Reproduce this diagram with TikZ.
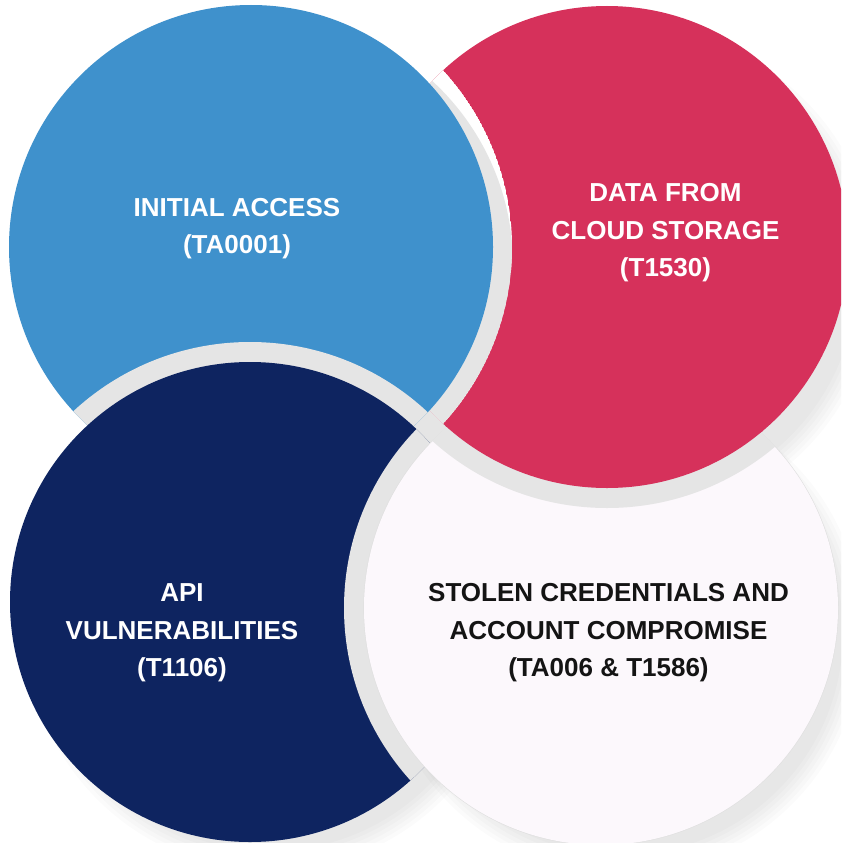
\documentclass[tikz,border=0pt]{standalone}
\usepackage{fontspec}
\setmainfont{Liberation Sans}
\definecolor{bluec}{HTML}{3F91CC}
\definecolor{redc}{HTML}{D6315B}
\definecolor{navyc}{HTML}{0E2460}
\definecolor{whitec}{HTML}{FCF8FC}
\definecolor{ringgrey}{HTML}{E5E5E5}
\definecolor{txtdark}{HTML}{141414}
\begin{document}
\begin{tikzpicture}[x=1pt,y=-1pt,
  lbl/.style={align=center, font=\fontsize{26}{37.5}\selectfont\bfseries, inner sep=0pt},
  softshadow/.style={fill=black, opacity=0.016}]
\useasboundingbox (0,0) rectangle (841,843);
\fill[white] (0,0) rectangle (841,843);
\clip (0,0) rectangle (841,843);
\coordinate (cB) at (251,247);
\coordinate (cR) at (607,247);
\coordinate (cN) at (250,602);
\coordinate (cW) at (601,608);
\coordinate (mid) at (430,427);
% soft drop shadows
\foreach \k in {0,...,5}{
  \fill[softshadow] ([shift={(22,28)}]cR) circle[radius=248pt-4pt*\k];
  \fill[softshadow] ([shift={(20,25)}]cW) circle[radius=242pt-4pt*\k];
  \fill[softshadow] ([shift={(20,25)}]cN) circle[radius=244pt-4pt*\k];
}
% grey patch where the four rings meet
\fill[ringgrey] (mid) circle[radius=20pt];
% red (under blue)
\fill[redc] (cR) circle[radius=241pt];
% blue ring over red
\begin{scope}
  \clip (cR) circle[radius=241pt];
  \clip (cB) circle[radius=261pt];
  \fill[white] (cB) circle[radius=261pt];
  \fill[ringgrey] ([shift={(12,18)}]cB) circle[radius=250pt];
\end{scope}
\fill[bluec] (cB) circle[radius=242pt];
% navy ring over blue
\begin{scope}
  \clip (cB) circle[radius=242pt];
  \fill[ringgrey] (cN) circle[radius=260pt];
\end{scope}
\fill[navyc] (cN) circle[radius=240pt];
% white ring over navy
\begin{scope}
  \clip (cN) circle[radius=240pt];
  \fill[ringgrey] (cW) circle[radius=257pt];
\end{scope}
% white circle with a faint edge
\fill[black!12] (cW) circle[radius=237.6pt];
\fill[whitec] (cW) circle[radius=237pt];
% red ring and red over white
\begin{scope}
  \clip (cW) circle[radius=237.6pt];
  \fill[ringgrey] (cR) circle[radius=261pt];
\end{scope}
\begin{scope}
  \clip (cW) circle[radius=239.8pt];
  \fill[redc] (cR) circle[radius=241pt];
\end{scope}
% labels
\node[lbl, text=white] (tB) at (237,228.5) {INITIAL ACCESS\\(TA0001)};
\node[lbl, text=white] (tR) at (665.5,233) {DATA FROM\\CLOUD STORAGE\\(T1530)};
\node[lbl, text=white] (tN) at (182,633) {API\\VULNERABILITIES\\(T1106)};
\node[lbl, text=txtdark] (tW) at (608.5,633) {STOLEN CREDENTIALS AND\\ACCOUNT COMPROMISE\\(TA006 \& T1586)};
\end{tikzpicture}
\end{document}
